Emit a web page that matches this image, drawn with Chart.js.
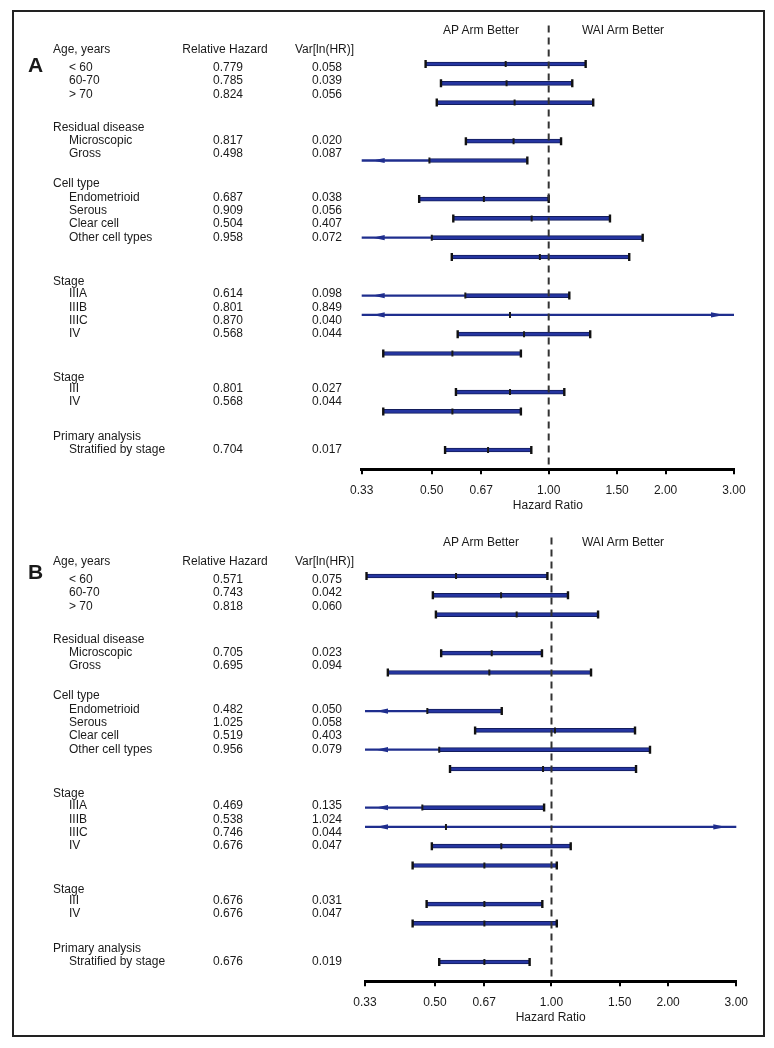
<!DOCTYPE html>
<html>
<head>
<meta charset="utf-8">
<script src="https://cdn.jsdelivr.net/npm/chart.js@4.4.0/dist/chart.umd.min.js"></script>
<style>
  html, body { margin: 0; padding: 0; background: #fff; }
  body { width: 774px; height: 1048px; position: relative; overflow: hidden;
         font-family: "Liberation Sans", Arial, sans-serif; color: #1a1a1a; }
  #frame { position: absolute; left: 12px; top: 10px; width: 753px; height: 1027px;
           border: 2px solid #222; box-sizing: border-box; }
  .panel { position: absolute; left: 0; width: 774px; height: 520px; }
  .panel canvas { position: absolute; left: 0; top: 0; }
  .t { position: absolute; font-size: 12px; line-height: 14px; white-space: nowrap; }
  .letter { font-size: 21px; font-weight: bold; line-height: 24px; }
</style>
</head>
<body>
<div id="frame"></div>
<div class="panel" id="panelA"><canvas id="chartA" width="774" height="520"></canvas></div>
<div class="panel" id="panelB" style="top:512px"><canvas id="chartB" width="774" height="520"></canvas></div>

<script>
// subgroup table
const groupTitles = ["Age, years", "Residual disease", "Cell type", "Stage", "Stage", "Primary analysis"];
const groupSizes = [3, 2, 4, 4, 2, 1];
const subgroupLabels = ["< 60", "60-70", "> 70", "Microscopic", "Gross", "Endometrioid", "Serous",
  "Clear cell", "Other cell types", "IIIA", "IIIB", "IIIC", "IV", "III", "IV", "Stratified by stage"];

// row of each interval on the plot (blank rows between groups)
const barRows = [0, 1, 2, 4, 5, 7, 8, 9, 10, 12, 13, 14, 15, 17, 18, 20];

// axis
const tickValues = [0.33, 0.5, 0.67, 1, 1.5, 2, 3];

// panel A
const hrA = [0.779, 0.785, 0.824, 0.817, 0.498, 0.687, 0.909, 0.504, 0.958, 0.614, 0.801, 0.870, 0.568, 0.801, 0.568, 0.704];
const varA = [0.058, 0.039, 0.056, 0.020, 0.087, 0.038, 0.056, 0.407, 0.072, 0.098, 0.849, 0.040, 0.044, 0.027, 0.044, 0.017];
const loA = [0.482, 0.528, 0.515, 0.612, 0.28, 0.464, 0.568, 0.144, 0.563, 0.32, 0.13, 0.583, 0.375, 0.577, 0.375, 0.541];
const midA = [0.775, 0.779, 0.817, 0.812, 0.493, 0.681, 0.904, 0.500, 0.949, 0.610, 0.795, 0.864, 0.565, 0.795, 0.565, 0.698];
const hiA = [1.245, 1.150, 1.302, 1.076, 0.881, 1.000, 1.438, 1.746, 1.612, 1.130, 4.9, 1.279, 0.848, 1.097, 0.848, 0.902];

// panel B
const hrB = [0.571, 0.743, 0.818, 0.705, 0.695, 0.482, 1.025, 0.519, 0.956, 0.469, 0.538, 0.746, 0.676, 0.676, 0.676, 0.676];
const varB = [0.075, 0.042, 0.060, 0.023, 0.094, 0.050, 0.058, 0.403, 0.079, 0.135, 1.024, 0.044, 0.047, 0.031, 0.047, 0.019];
const loB = [0.333, 0.494, 0.503, 0.519, 0.378, 0.31, 0.635, 0.15, 0.547, 0.23, 0.07, 0.491, 0.438, 0.476, 0.438, 0.513];
const midB = [0.567, 0.741, 0.813, 0.701, 0.691, 0.478, 1.021, 0.513, 0.951, 0.464, 0.534, 0.742, 0.671, 0.671, 0.671, 0.671];
const hiB = [0.976, 1.103, 1.319, 0.945, 1.265, 0.744, 1.643, 1.796, 1.653, 0.957, 3.9, 1.121, 1.032, 0.947, 1.032, 0.878];

// layout of the text table (px from panel top)
const headerY = [49.3, 127, 183.3, 281, 376.7, 435.7];
const firstGap = [17.7, 13, 13.4, 12.3, 10.8, 13.3];
const lineStep = 13.3;

const BLUE = "#1f2e8e";
const FONT = "'Liberation Sans', Arial, sans-serif";

function addText(parent, str, x, y, align, cls) {
  const el = document.createElement("div");
  el.className = "t" + (cls ? " " + cls : "");
  el.textContent = str;
  el.style.left = x + "px";
  el.style.top = y + "px";
  el.style.transform = align === "center" ? "translate(-50%,-50%)" : "translateY(-50%)";
  parent.appendChild(el);
}

function drawTable(parent, letter, letterY, hr, v) {
  addText(parent, letter, 28, letterY, "left", "letter");
  addText(parent, "Relative Hazard", 225, headerY[0], "center");
  addText(parent, "Var[ln(HR)]", 324.5, headerY[0], "center");
  let k = 0;
  groupTitles.forEach((g, gi) => {
    addText(parent, g, 53, headerY[gi], "left");
    for (let j = 0; j < groupSizes[gi]; j++, k++) {
      const y = headerY[gi] + firstGap[gi] + j * lineStep;
      addText(parent, subgroupLabels[k], 69, y, "left");
      addText(parent, hr[k].toFixed(3), 228, y, "center");
      addText(parent, v[k].toFixed(3), 327, y, "center");
    }
  });
  addText(parent, "AP Arm Better", 481, 30, "center");
  addText(parent, "WAI Arm Better", 623, 30, "center");
}

// dashed no-effect line and arrowheads for clipped intervals
const forestExtras = {
  id: "forestExtras",
  afterDatasetsDraw(chart) {
    const { ctx, chartArea, scales } = chart;
    const x = scales.x, y = scales.y;
    const px = x.getPixelForValue(1);
    ctx.save();
    ctx.strokeStyle = "#333";
    ctx.lineWidth = 2;
    ctx.setLineDash([7, 5]);
    ctx.beginPath();
    ctx.moveTo(px, chartArea.top);
    ctx.lineTo(px, chartArea.bottom);
    ctx.stroke();
    ctx.setLineDash([]);
    ctx.fillStyle = BLUE;
    chart.data.datasets[0].data.forEach(d => {
      const py = y.getPixelForValue(d.y);
      if (d.x[0] < x.min) {
        ctx.beginPath();
        ctx.moveTo(chartArea.left + 11, py);
        ctx.lineTo(chartArea.left + 23, py - 2.6);
        ctx.lineTo(chartArea.left + 23, py + 2.6);
        ctx.closePath();
        ctx.fill();
      }
      if (d.x[1] > x.max) {
        ctx.beginPath();
        ctx.moveTo(chartArea.right - 10, py);
        ctx.lineTo(chartArea.right - 23, py - 2.6);
        ctx.lineTo(chartArea.right - 23, py + 2.6);
        ctx.closePath();
        ctx.fill();
      }
    });
    ctx.restore();
  }
};

function buildChart(canvas, lo, mid, hi, left, right) {
  const xMin = tickValues[0], xMax = tickValues[tickValues.length - 1];
  const thin = barRows.map((r, i) => ({ y: r, x: [lo[i], hi[i]] }));
  const thick = barRows.map((r, i) => ({
    y: r,
    x: [lo[i] < xMin ? mid[i] : lo[i], hi[i] > xMax ? mid[i] : hi[i]]
  }));
  const caps = [];
  barRows.forEach((r, i) => {
    if (lo[i] >= xMin) caps.push({ x: lo[i], y: r });
    if (hi[i] <= xMax) caps.push({ x: hi[i], y: r });
  });
  const mids = barRows.map((r, i) => ({ x: mid[i], y: r }));

  return new Chart(canvas, {
    type: "scatter",
    data: {
      datasets: [
        { type: "bar", indexAxis: "y", data: thin, backgroundColor: BLUE,
          barThickness: 1.6, grouped: false, clip: 0, order: 4 },
        { type: "bar", indexAxis: "y", data: thick, backgroundColor: "#2535a0",
          borderColor: "#131d5c", borderWidth: 1, borderSkipped: false,
          barThickness: 4, grouped: false, clip: 0, order: 3 },
        { type: "scatter", data: caps, pointStyle: "line", rotation: 90, radius: 4,
          borderWidth: 2.4, borderColor: "#111", order: 2 },
        { type: "scatter", data: mids, pointStyle: "line", rotation: 90, radius: 3,
          borderWidth: 2, borderColor: "#1a1a1a", order: 1 }
      ]
    },
    options: {
      responsive: false,
      animation: false,
      devicePixelRatio: 1,
      layout: { padding: { left: left, right: 774 - right, top: 25.4, bottom: 6.7 } },
      plugins: { legend: { display: false }, tooltip: { enabled: false } },
      scales: {
        x: {
          type: "logarithmic",
          position: "bottom",
          min: xMin,
          max: xMax,
          bounds: "data",
          offset: false,
          afterBuildTicks: s => { s.ticks = tickValues.map(v => ({ value: v })); },
          afterFit: s => { s.height = 44; },
          ticks: {
            autoSkip: false, maxRotation: 0, padding: 9, color: "#1a1a1a",
            font: { family: FONT, size: 12 },
            callback: v => Number(v).toFixed(2)
          },
          grid: { display: true, offset: false, drawOnChartArea: false, drawTicks: true, tickLength: 5,
                  color: "#000", lineWidth: 2 },
          border: { display: true, color: "#000", width: 3 },
          title: { display: true, text: "Hazard Ratio", color: "#1a1a1a",
                   font: { family: FONT, size: 12 }, padding: { top: 0, bottom: 0 } }
        },
        y: { type: "linear", min: -2, max: 21, reverse: true, display: false,
             offset: false, grid: { offset: false } }
      }
    },
    plugins: [forestExtras]
  });
}

drawTable(document.getElementById("panelA"), "A", 65, hrA, varA);
drawTable(document.getElementById("panelB"), "B", 59.7, hrB, varB);
buildChart(document.getElementById("chartA"), loA, midA, hiA, 361.7, 734);
buildChart(document.getElementById("chartB"), loB, midB, hiB, 365, 736.3);
</script>
</body>
</html>
